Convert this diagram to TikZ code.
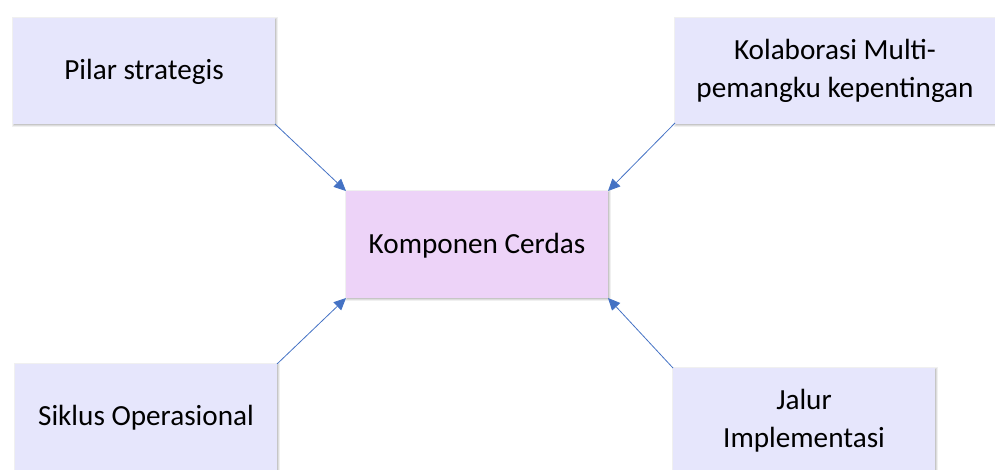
\documentclass[tikz,border=0pt]{standalone}
\usepackage{fontspec}
\setmainfont{Carlito}
\usetikzlibrary{shadows,arrows.meta}
\definecolor{boxfill}{HTML}{E6E6FC}
\definecolor{centerfill}{HTML}{EDD3F8}
\definecolor{arrowblue}{HTML}{4472C4}
\tikzset{
  box/.style={draw=none, fill=boxfill},
  cbox/.style={draw=none, fill=centerfill},
  lbl/.style={font=\fontsize{29.2}{38}\selectfont, align=center, text=black},
  conn/.style={draw=arrowblue, line width=0.8pt, -{Triangle[length=12pt,width=11pt]}}
}
\begin{document}
\begin{tikzpicture}[x=1pt,y=-1pt]
\useasboundingbox (0,0) rectangle (995,469);
\begin{scope}
\clip (0,0) rectangle (995,469);
\foreach \a/\b/\c/\d in {13/18/275/124, 675/18/997/124, 346/191/608/298, 15/364/277/475, 673/368/935/478}{
  \path[fill=black, opacity=0.06] (\a-1,\b-1) rectangle (\c+3,\d+3);
  \path[fill=black, opacity=0.08] (\a,\b) rectangle (\c+2,\d+2);
  \path[fill=black, opacity=0.10] (\a+0.5,\b+0.5) rectangle (\c+1,\d+1);
}
\path[box] (13,18) rectangle (275,124);
\path[box] (675,18) rectangle (997,124);
\path[cbox] (346,191) rectangle (608,298);
\path[box] (15,364) rectangle (277,475);
\path[box] (673,368) rectangle (935,478);
\end{scope}
\node[lbl] (tl) at (144,72) {Pilar strategis};
\node[lbl] (tr) at (835,71) {Kolaborasi Multi-\\pemangku kepentingan};
\node[lbl] (c) at (477,246) {Komponen Cerdas};
\node[lbl] (bl) at (146,418) {Siklus Operasional};
\node[lbl] (br) at (804,421) {Jalur\\Implementasi};
\coordinate (tlc) at (275,124);
\coordinate (trc) at (675,123);
\coordinate (blc) at (277,364);
\coordinate (brc) at (673,368);
\coordinate (c1) at (346,191);
\coordinate (c2) at (608,191);
\coordinate (c3) at (346,298);
\coordinate (c4) at (608,298);
\draw[conn] (tlc) -- (c1);
\draw[conn] (trc) -- (c2);
\draw[conn] (blc) -- (c3);
\draw[conn] (brc) -- (c4);
\end{tikzpicture}
\end{document}
